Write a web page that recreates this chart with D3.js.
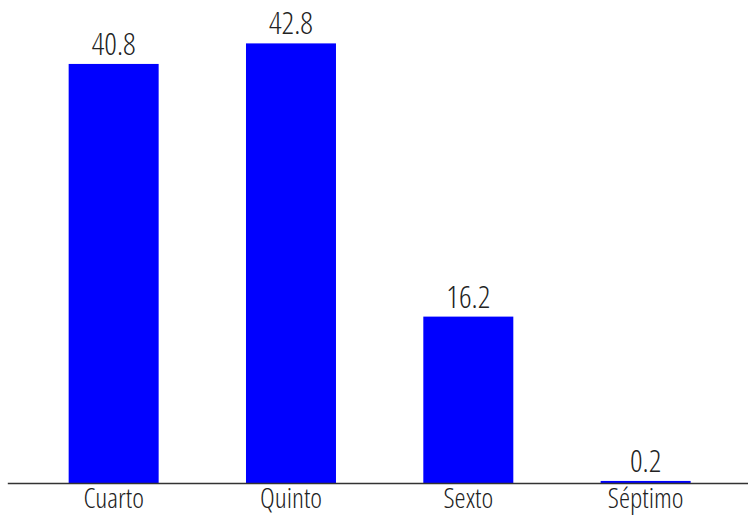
<!DOCTYPE html>
<html>
<head>
<meta charset="utf-8">
<script src="https://cdn.jsdelivr.net/npm/d3@7"></script>
<style>
    body { margin: 0; background: #fff; }
    text { font-family: "Open Sans", sans-serif; font-weight: 300; font-stretch: 75%; fill: #222; }
</style>
</head>
<body>
<svg width="748" height="516"></svg>
<script>
var categories = ["Cuarto", "Quinto", "Sexto", "Séptimo"];
var values = [40.8, 42.8, 16.2, 0.2];

var svg = d3.select("svg");

// scales
var scX = d3.scaleBand()
    .domain(categories)
    .range([7.3, 752])
    .paddingInner(0.4925)
    .paddingOuter(0.346);

var scY = d3.scaleLinear()
    .domain([0, 45])
    .range([483, 20.8]);

// bars
svg.append("g")
    .selectAll("rect")
    .data(values)
    .enter()
    .append("rect")
    .attr("x", (d, i) => scX(categories[i]))
    .attr("y", d => scY(d))
    .attr("width", scX.bandwidth())
    .attr("height", d => scY(0) - scY(d))
    .attr("fill", "#0000ff");

// value labels
svg.append("g")
    .selectAll("text")
    .data(values)
    .enter()
    .append("text")
    .attr("x", (d, i) => scX(categories[i]) + scX.bandwidth() / 2)
    .attr("y", d => scY(d) - 9)
    .attr("text-anchor", "middle")
    .attr("font-size", 31)
    .text(d => d.toFixed(1));

// x axis
var axis = svg.append("g")
    .attr("transform", `translate(0,${scY(0)})`)
    .call(d3.axisBottom(scX).tickSize(0).tickPadding(5));
axis.select(".domain").attr("stroke", "#333").attr("stroke-width", 1.3);
axis.selectAll("text")
    .attr("font-size", 28)
    .attr("font-family", null)
    .attr("fill", "#222")
    .attr("dy", "0.71em");
</script>
</body>
</html>
